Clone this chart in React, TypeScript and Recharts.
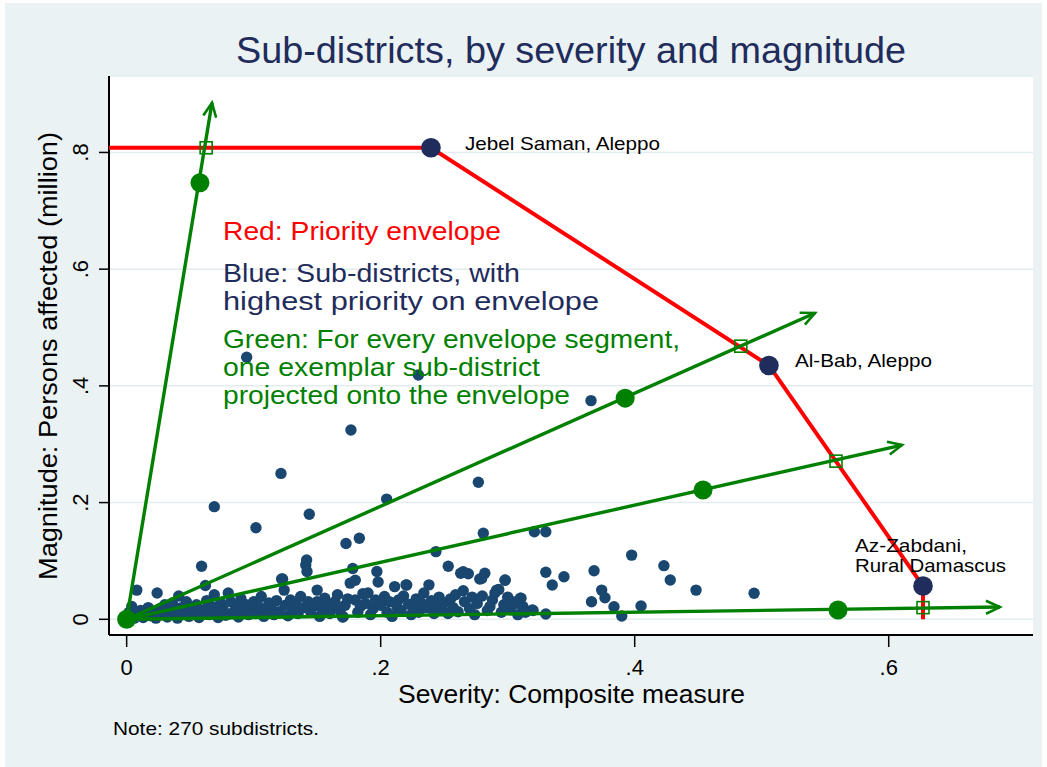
import React from 'react';
import { ScatterChart, Scatter, XAxis, YAxis, CartesianGrid } from 'recharts';

// ---------- data ----------
const severityTicks = [0, 0.2, 0.4, 0.6];
const magnitudeTicks = [0, 0.2, 0.4, 0.6, 0.8];

// all sub-districts: [severity, magnitude (million)]
const subdistrictPairs: [number, number][] = [
  [0.000, 0.005], [0.002, 0.012], [0.004, 0.022], [0.006, 0.002], [0.008, 0.050], [0.009, 0.008], [0.011, 0.015], [0.013, 0.003],
  [0.015, 0.010], [0.017, 0.020], [0.019, 0.006], [0.021, 0.013], [0.023, 0.002], [0.024, 0.045], [0.026, 0.018], [0.028, 0.008],
  [0.030, 0.025], [0.032, 0.004], [0.034, 0.014], [0.036, 0.028], [0.038, 0.009], [0.040, 0.002], [0.041, 0.040], [0.043, 0.020],
  [0.045, 0.012], [0.047, 0.030], [0.049, 0.005],
  [0.051, 0.018], [0.053, 0.010], [0.055, 0.025], [0.057, 0.003], [0.059, 0.091], [0.060, 0.015], [0.062, 0.058], [0.063, 0.032],
  [0.065, 0.008], [0.067, 0.022], [0.069, 0.042], [0.070, 0.012], [0.072, 0.003], [0.074, 0.028], [0.076, 0.017], [0.078, 0.007],
  [0.080, 0.045], [0.082, 0.030], [0.084, 0.012], [0.086, 0.022], [0.088, 0.004], [0.090, 0.035], [0.092, 0.015], [0.094, 0.025],
  [0.096, 0.008], [0.098, 0.018],
  [0.100, 0.030], [0.102, 0.010], [0.104, 0.022], [0.106, 0.039], [0.108, 0.005], [0.110, 0.015], [0.112, 0.028], [0.114, 0.018],
  [0.116, 0.008], [0.118, 0.032], [0.120, 0.013], [0.122, 0.069], [0.124, 0.050], [0.125, 0.024], [0.127, 0.006], [0.129, 0.033],
  [0.131, 0.016], [0.133, 0.026], [0.135, 0.010], [0.137, 0.039], [0.139, 0.020], [0.141, 0.093], [0.142, 0.082], [0.143, 0.030],
  [0.145, 0.012], [0.147, 0.022], [0.150, 0.050], [0.150, 0.030],
  [0.152, 0.005], [0.154, 0.018], [0.156, 0.036], [0.158, 0.026], [0.160, 0.010], [0.162, 0.020], [0.164, 0.030], [0.166, 0.042],
  [0.168, 0.015], [0.170, 0.004], [0.172, 0.024], [0.174, 0.035], [0.176, 0.062], [0.178, 0.087], [0.180, 0.067], [0.180, 0.033],
  [0.182, 0.012], [0.184, 0.022], [0.186, 0.044], [0.188, 0.027], [0.190, 0.045], [0.192, 0.008], [0.194, 0.018], [0.196, 0.033],
  [0.197, 0.082], [0.198, 0.064],
  [0.200, 0.024], [0.203, 0.039], [0.205, 0.012], [0.207, 0.030], [0.209, 0.005], [0.211, 0.056], [0.213, 0.020], [0.214, 0.033],
  [0.216, 0.015], [0.218, 0.040], [0.220, 0.059], [0.222, 0.026], [0.224, 0.008], [0.226, 0.018], [0.228, 0.035], [0.230, 0.012],
  [0.232, 0.028], [0.234, 0.045], [0.236, 0.020], [0.238, 0.059], [0.240, 0.032], [0.242, 0.010], [0.244, 0.022], [0.246, 0.038],
  [0.248, 0.015],
  [0.250, 0.028], [0.253, 0.010], [0.255, 0.035], [0.257, 0.020], [0.259, 0.042], [0.261, 0.013], [0.263, 0.079], [0.265, 0.049],
  [0.266, 0.030], [0.269, 0.078], [0.270, 0.018], [0.272, 0.038], [0.274, 0.008], [0.276, 0.027], [0.278, 0.069], [0.280, 0.040],
  [0.282, 0.079], [0.284, 0.015], [0.286, 0.022], [0.288, 0.033], [0.290, 0.045], [0.293, 0.051], [0.295, 0.012], [0.297, 0.025],
  [0.298, 0.067],
  [0.300, 0.038], [0.302, 0.018], [0.304, 0.030], [0.306, 0.027], [0.308, 0.008], [0.310, 0.036], [0.312, 0.022], [0.314, 0.012],
  [0.320, 0.015], [0.330, 0.009],
  // more scattered sub-districts
  [0.0945, 0.449], [0.1215, 0.250], [0.069, 0.193], [0.1018, 0.157], [0.1438, 0.180], [0.2047, 0.206], [0.1727, 0.130],
  [0.1832, 0.139], [0.1417, 0.1016], [0.2435, 0.116], [0.2532, 0.091], [0.2297, 0.4187], [0.1766, 0.3244], [0.2769, 0.2348],
  [0.2808, 0.1474], [0.265, 0.0816], [0.2795, 0.070], [0.2913, 0.050], [0.3656, 0.3747], [0.321, 0.150], [0.330, 0.150],
  [0.3976, 0.110], [0.423, 0.0919], [0.428, 0.0674], [0.4483, 0.050], [0.494, 0.0446], [0.330, 0.0805], [0.3443, 0.073],
  [0.3351, 0.0588], [0.368, 0.0833], [0.374, 0.050], [0.3766, 0.037], [0.366, 0.030], [0.3837, 0.0216], [0.3898, 0.0057],
  [0.405, 0.0228], [0.3194, 0.016], [0.3105, 0.036], [0.2979, 0.0674], [0.1705, 0.0045], [0.1228, 0.069], [0.2205, 0.0588],
];

// red priority envelope (vertices)
const envelopeX = [-0.0139, 0.2396, 0.5057, 0.627, 0.627];
const envelopeY = [0.808, 0.808, 0.435, 0.057, 0.0];

// highest-priority sub-districts on the envelope
const leaderNames = ['Jebel Saman, Aleppo', 'Al-Bab, Aleppo', 'Az-Zabdani, Rural Damascus'];
const leaderX = [0.2396, 0.5057, 0.627];
const leaderY = [0.808, 0.435, 0.057];

// green rays from origin (end points at arrow tip)
const rayEndX = [0.0672, 0.542, 0.6105, 0.6876];
const rayEndY = [0.885, 0.525, 0.2986, 0.021];

// exemplar sub-districts (green dots), incl. origin
const exemplarX = [0, 0.0577, 0.3925, 0.4538, 0.5601];
const exemplarY = [0, 0.748, 0.379, 0.2215, 0.016];

// projections onto envelope (hollow squares)
const projectedX = [0.0626, 0.4835, 0.5585, 0.627];
const projectedY = [0.808, 0.468, 0.271, 0.020];

// ---------- derived tables ----------
const subdistricts = subdistrictPairs.map(([x, y]) => ({ x, y }));
const envelope = envelopeX.map((x, i) => ({ x, y: envelopeY[i] }));
const leaders = leaderNames.map((name, i) => ({ name, x: leaderX[i], y: leaderY[i] }));
const rays = rayEndX.map((x, i) => [{ x: 0, y: 0 }, { x, y: rayEndY[i] }]);
const exemplars = exemplarX.map((x, i) => ({ x, y: exemplarY[i] }));
const projected = projectedX.map((x, i) => ({ x, y: projectedY[i] }));

// ---------- styles ----------
const FONT = '"Liberation Sans", Arial, Helvetica, sans-serif';
const NAVY = '#1f2c5c';
const DOT = '#1a476f';
const GREEN = '#008000';
const RED = '#ff0000';
const BG = '#eaf2f3';

const leaderLabelLayout: Record<string, { dx: number; lines: { text: string; dy: number; w: number }[] }> = {
  'Jebel Saman, Aleppo': { dx: 34, lines: [{ text: 'Jebel Saman, Aleppo', dy: 2, w: 195 }] },
  'Al-Bab, Aleppo': { dx: 26, lines: [{ text: 'Al-Bab, Aleppo', dy: 2, w: 137 }] },
  'Az-Zabdani, Rural Damascus': {
    dx: -68,
    lines: [
      { text: 'Az-Zabdani,', dy: -34, w: 112 },
      { text: 'Rural Damascus', dy: -14, w: 151 },
    ],
  },
};

const fmt = (v: number) => (v === 0 ? '0' : String(v).replace(/^0/, ''));

const YTick = (props: any) => {
  const { x, y, payload } = props;
  return (
    <text
      x={x}
      y={y}
      transform={`rotate(-90, ${x}, ${y})`}
      textAnchor="middle"
      fontSize={22}
      fontFamily={FONT}
      fill="#000"
    >
      {fmt(payload.value)}
    </text>
  );
};

const SmallDot = (p: any) => <circle cx={p.cx} cy={p.cy} r={5.7} fill={DOT} />;
const Nothing = () => <g />;
const GreenDot = (p: any) => <circle cx={p.cx} cy={p.cy} r={9.5} fill={GREEN} />;
const GreenSquare = (p: any) => (
  <rect x={p.cx - 6} y={p.cy - 6} width={12} height={12} fill="none" stroke={GREEN} strokeWidth={1.6} />
);
const LeaderDot = (p: any) => {
  const layout = leaderLabelLayout[p.payload.name];
  return (
    <g>
      <circle cx={p.cx} cy={p.cy} r={9.8} fill={NAVY} />
      {layout.lines.map((l) => (
        <text
          key={l.text}
          x={p.cx + layout.dx}
          y={p.cy + l.dy}
          fontSize={19}
          fontFamily={FONT}
          fill="#000"
          textLength={l.w}
          lengthAdjust="spacingAndGlyphs"
        >
          {l.text}
        </text>
      ))}
    </g>
  );
};

const T = (p: { x: number; y: number; size: number; w: number; color: string; children: string; rotate?: boolean }) => (
  <text
    x={p.rotate ? 0 : p.x}
    y={p.rotate ? 0 : p.y}
    transform={p.rotate ? `translate(${p.x},${p.y}) rotate(-90)` : undefined}
    fontSize={p.size}
    fontFamily={FONT}
    fill={p.color}
    textLength={p.w}
    lengthAdjust="spacingAndGlyphs"
  >
    {p.children}
  </text>
);

export default function App() {
  return (
    <div style={{ position: 'absolute', left: 0, top: 0, width: 1047, height: 767, background: '#fff', overflow: 'hidden' }}>
      <div style={{ position: 'absolute', left: 5, top: 3, width: 1037, height: 764, background: BG }} />
      <svg width={0} height={0} style={{ position: 'absolute' }}>
        <defs>
          <marker
            id="arrowGreen"
            markerUnits="userSpaceOnUse"
            markerWidth={22}
            markerHeight={18}
            viewBox="-19 -9 22 18"
            refX={0}
            refY={0}
            orient="auto"
          >
            <path d="M-14,-6.5 L0,0 L-14,6.5" fill="none" stroke={GREEN} strokeWidth={2.6} />
          </marker>
        </defs>
      </svg>
      <div style={{ position: 'absolute', left: 0, top: 0 }}>
        <ScatterChart width={1047} height={767} margin={{ top: 76, right: 14, bottom: 72, left: 0 }}>
          <CartesianGrid vertical={false} stroke="#e3ecef" strokeWidth={1.5} fill="#ffffff" />
          <XAxis
            dataKey="x"
            type="number"
            domain={[-0.0139, 0.7136]}
            allowDataOverflow
            ticks={severityTicks}
            tickFormatter={fmt}
            interval={0}
            height={60}
            tickSize={12}
            tickMargin={12}
            axisLine={{ stroke: '#000', strokeWidth: 2 }}
            tickLine={{ stroke: '#000', strokeWidth: 1.5 }}
            tick={{ fill: '#000', fontSize: 22, fontFamily: FONT }}
          />
          <YAxis
            dataKey="y"
            type="number"
            domain={[-0.0269, 0.931]}
            allowDataOverflow
            ticks={magnitudeTicks}
            interval={0}
            width={109}
            tickSize={10}
            tickMargin={11}
            axisLine={{ stroke: '#000', strokeWidth: 2 }}
            tickLine={{ stroke: '#000', strokeWidth: 1.5 }}
            tick={<YTick />}
          />
          <Scatter data={subdistricts} shape={SmallDot} isAnimationActive={false} />
          <Scatter
            data={envelope}
            shape={Nothing}
            line={{ stroke: RED, strokeWidth: 4 }}
            lineType="joint"
            isAnimationActive={false}
          />
          {rays.map((r, i) => (
            <Scatter
              key={`ray${i}`}
              data={r}
              shape={Nothing}
              line={{ stroke: GREEN, strokeWidth: 3.4, markerEnd: 'url(#arrowGreen)' } as any}
              lineType="joint"
              isAnimationActive={false}
            />
          ))}
          <Scatter data={projected} shape={GreenSquare} isAnimationActive={false} />
          <Scatter data={exemplars} shape={GreenDot} isAnimationActive={false} />
          <Scatter data={leaders} shape={LeaderDot} isAnimationActive={false} />
        </ScatterChart>
      </div>
      <svg width={1047} height={767} style={{ position: 'absolute', left: 0, top: 0, pointerEvents: 'none' }}>
        <T x={236} y={63} size={36} w={670} color={NAVY}>Sub-districts, by severity and magnitude</T>
        <T x={398} y={703} size={25} w={347} color="#000">Severity: Composite measure</T>
        <T x={57} y={580} size={25} w={448} color="#000" rotate>Magnitude: Persons affected (million)</T>
        <T x={113} y={735} size={19} w={206} color="#000">Note: 270 subdistricts.</T>
        <T x={223} y={240} size={25} w={278} color={RED}>Red: Priority envelope</T>
        <T x={223} y={282} size={25} w={297} color={NAVY}>Blue: Sub-districts, with</T>
        <T x={223} y={310} size={25} w={376} color={NAVY}>highest priority on envelope</T>
        <T x={223} y={348} size={25} w={457} color={GREEN}>Green: For every envelope segment,</T>
        <T x={223} y={376} size={25} w={317} color={GREEN}>one exemplar sub-district</T>
        <T x={223} y={404} size={25} w={347} color={GREEN}>projected onto the envelope</T>
      </svg>
    </div>
  );
}
